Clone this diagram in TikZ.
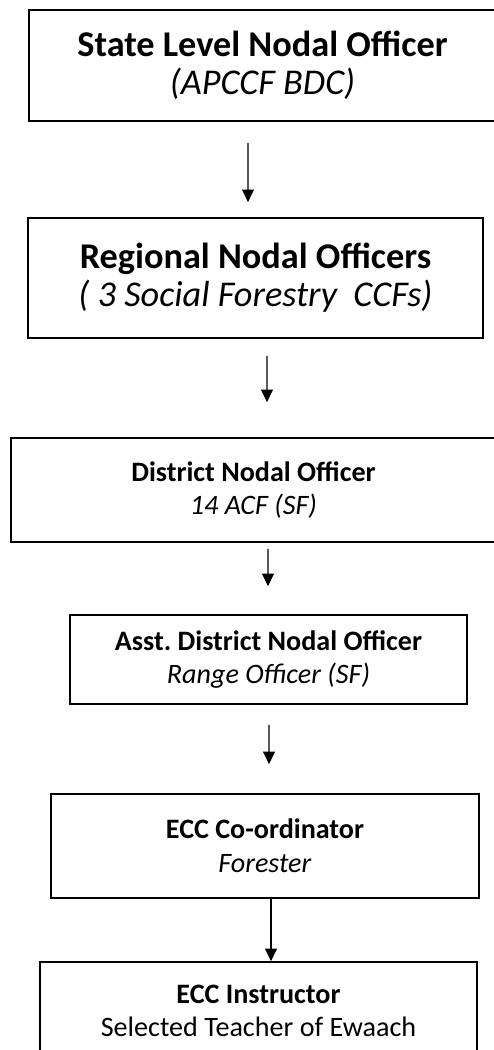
\documentclass[tikz,border=0pt]{standalone}
\usepackage{fontspec}
\setmainfont{Carlito}
\usetikzlibrary{arrows.meta}

\begin{document}
\begin{tikzpicture}[
  officebox/.style={draw, line width=1.2pt, align=center, inner sep=0pt},
  bigtext/.style={font=\fontsize{25.8}{27}\selectfont},
  smalltext/.style={font=\fontsize{20}{24}\selectfont},
  flow/.style={-{Triangle[width=8.5pt,length=9pt]}, line width=0.9pt}
]
% Fix the page to the size of the scan
\useasboundingbox (0,0) rectangle (12.325,-26.25);

% Draw the boxes, top to bottom
\node[officebox, bigtext, minimum width=11.675cm, minimum height=2.775cm] (state) at (6.5625,-1.6375) {\textbf{State Level Nodal Officer}\\\textit{(APCCF BDC)}};
\node[officebox, bigtext, minimum width=11.375cm, minimum height=3.0cm] (regional) at (6.3875,-6.95) {\textbf{Regional Nodal Officers}\\\textit{( 3 Social Forestry\ \ CCFs)}};
\node[officebox, smalltext, minimum width=12.125cm, minimum height=2.6cm] (district) at (6.3375,-12.25) {\textbf{District Nodal Officer}\\\textit{14 ACF (SF)}};
\node[officebox, smalltext, minimum width=9.925cm, minimum height=2.225cm] (asst) at (6.7125,-16.4875) {\textbf{Asst.\ District Nodal Officer}\\\textit{Range Officer (SF)}};
\node[officebox, smalltext, minimum width=10.7cm, minimum height=2.6cm] (coord) at (6.625,-21.15) {\textbf{ECC Co-ordinator}\\\textit{Forester}};
\node[officebox, smalltext, minimum width=10.925cm, minimum height=2.45cm] (instructor) at (6.4625,-25.275) {\textbf{ECC Instructor}\\Selected Teacher of Ewaach};

% Arrows between the levels
\draw[flow, shorten <=0.525cm, shorten >=0.375cm] ([xshift=-0.3625cm]state.south) -- ([xshift=-0.1875cm]regional.north);
\draw[flow, shorten <=0.425cm, shorten >=0.875cm] ([xshift=0.2875cm]regional.south) -- ([xshift=0.3375cm]district.north);
\draw[flow, shorten <=0.15cm, shorten >=0.7cm] ([xshift=0.3625cm]district.south) -- ([xshift=-0.0125cm]asst.north);
\draw[flow, shorten <=0.5cm, shorten >=0.725cm] ([xshift=0.0125cm]asst.south) -- ([xshift=0.1cm]coord.north);
\draw[flow] ([xshift=0.15cm]coord.south) -- ([xshift=0.3125cm]instructor.north);
\end{tikzpicture}
\end{document}
